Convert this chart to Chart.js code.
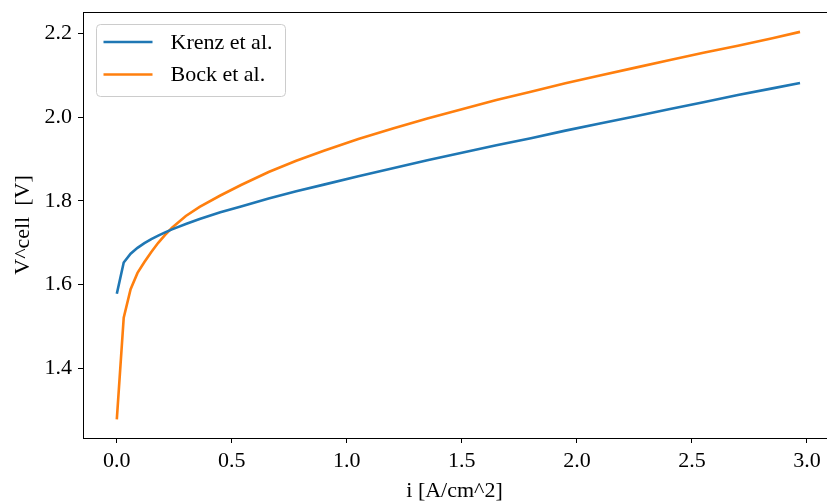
<!DOCTYPE html>
<html>
<head>
<meta charset="utf-8">
<script src="https://cdn.jsdelivr.net/npm/chart.js@4.4.0/dist/chart.umd.min.js"></script>
<style>
  html, body { margin: 0; padding: 0; background: #fff; }
</style>
</head>
<body>
<canvas id="vcellChart" width="827" height="504"></canvas>
<script>
// current density i [A/cm^2]
var currentDensity = [0, 0.03, 0.06, 0.09, 0.12, 0.15, 0.18, 0.21, 0.24, 0.30, 0.36, 0.45, 0.54, 0.66, 0.78, 0.90,
  1.05, 1.20, 1.35, 1.50, 1.65, 1.80, 1.95, 2.10, 2.25, 2.40, 2.55, 2.70, 2.85, 2.97];
// cell voltage [V]
var krenzV = [1.578, 1.653, 1.674, 1.688, 1.699, 1.709, 1.717, 1.725, 1.732, 1.745, 1.757, 1.773, 1.787, 1.806, 1.823, 1.839,
  1.859, 1.878, 1.897, 1.915, 1.933, 1.950, 1.968, 1.985, 2.002, 2.019, 2.036, 2.053, 2.069, 2.082];
var bockV = [1.278, 1.521, 1.589, 1.628, 1.654, 1.678, 1.700, 1.719, 1.736, 1.764, 1.786, 1.813, 1.838, 1.869, 1.896, 1.920,
  1.948, 1.973, 1.997, 2.019, 2.041, 2.061, 2.081, 2.100, 2.118, 2.136, 2.154, 2.171, 2.189, 2.204];
var seriesLabels = ["Krenz et al.", "Bock et al."];
var xTicks = [0, 0.5, 1.0, 1.5, 2.0, 2.5, 3.0];
var yTicks = [1.4, 1.6, 1.8, 2.0, 2.2];

function toPoints(xs, ys) {
  return xs.map(function (x, k) { return {x: x, y: ys[k]}; });
}

var serif = "'Liberation Serif', 'Times New Roman', serif";
Chart.defaults.font.family = serif;
Chart.defaults.font.size = 22;
Chart.defaults.color = "#000";

// top spine + matplotlib-like legend box
var framePlugin = {
  id: 'frame',
  afterDraw: function (chart) {
    var ctx = chart.ctx, a = chart.chartArea;
    ctx.save();
    ctx.strokeStyle = "#000";
    ctx.lineWidth = 1;
    ctx.beginPath();
    ctx.moveTo(a.left, a.top + 0.5);
    ctx.lineTo(a.right + 1, a.top + 0.5);
    ctx.stroke();

    var bx = a.left + 13.5, by = a.top + 12.5, bw = 189, bh = 72;
    ctx.beginPath();
    ctx.roundRect(bx, by, bw, bh, 4);
    ctx.fillStyle = "rgba(255,255,255,0.8)";
    ctx.fill();
    ctx.strokeStyle = "#cccccc";
    ctx.stroke();

    chart.data.datasets.forEach(function (ds, k) {
      var ly = by + 17.5 + k * 32.5;
      ctx.strokeStyle = ds.borderColor;
      ctx.lineWidth = 2.6;
      ctx.beginPath();
      ctx.moveTo(bx + 7, ly);
      ctx.lineTo(bx + 56, ly);
      ctx.stroke();
      ctx.fillStyle = "#000";
      ctx.font = "22px " + serif;
      ctx.textBaseline = "middle";
      ctx.textAlign = "left";
      ctx.fillText(ds.label, bx + 74, ly + 1);
    });
    ctx.restore();
  }
};

var ctx = document.getElementById("vcellChart").getContext("2d");
new Chart(ctx, {
  type: 'line',
  data: {
    datasets: [{
      label: seriesLabels[0],
      data: toPoints(currentDensity, krenzV),
      borderColor: "#1f77b4",
      borderWidth: 2.6,
      pointRadius: 0,
      fill: false
    }, {
      label: seriesLabels[1],
      data: toPoints(currentDensity, bockV),
      borderColor: "#ff7f0e",
      borderWidth: 2.6,
      pointRadius: 0,
      fill: false
    }]
  },
  options: {
    responsive: false,
    animation: false,
    devicePixelRatio: 1,
    layout: { padding: { top: 12, right: 1, left: 0, bottom: 0 } },
    plugins: {
      legend: { display: false },
      tooltip: { enabled: false }
    },
    scales: {
      x: {
        type: 'linear',
        min: -0.147,
        max: 3.083,
        afterBuildTicks: function (s) { s.ticks = xTicks.map(function (v) { return {value: v}; }); },
        afterFit: function (s) { s.height = 66; s.paddingLeft = 0; s.paddingRight = 0; },
        grid: { drawOnChartArea: false, drawTicks: true, tickLength: 5, tickColor: "#000" },
        border: { display: true, color: "#000", width: 1 },
        ticks: { padding: 5, maxRotation: 0, callback: function (v) { return Number(v).toFixed(1); } },
        title: { display: true, text: "i [A/cm^2]", padding: { top: 0, bottom: 0 } }
      },
      y: {
        type: 'linear',
        min: 1.2335,
        max: 2.2515,
        afterBuildTicks: function (s) { s.ticks = yTicks.map(function (v) { return {value: v}; }); },
        afterFit: function (s) { s.width = 83; s.paddingTop = 0; s.paddingBottom = 0; },
        grid: { drawOnChartArea: false, drawTicks: true, tickLength: 5, tickColor: "#000" },
        border: { display: true, color: "#000", width: 1 },
        ticks: { padding: 6, callback: function (v) { return Number(v).toFixed(1); } },
        title: { display: true, text: "V^cell  [V]", padding: { top: 10, bottom: 0 } }
      }
    }
  },
  plugins: [framePlugin]
});
</script>
</body>
</html>
